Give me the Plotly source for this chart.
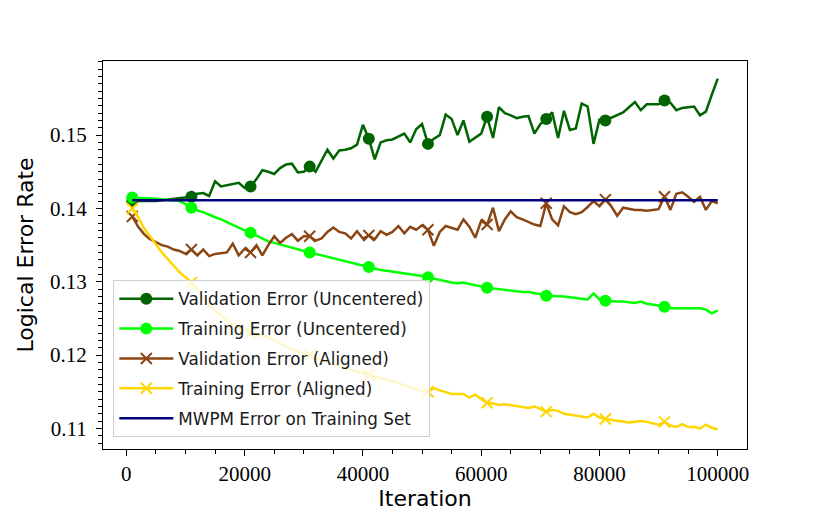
import plotly.graph_objects as go

# iteration grid (one point every 1000 iterations)
iterations = [1000 * k for k in range(1, 101)]

val_uncentered = [
    0.1410, 0.1410, 0.1409, 0.1410, 0.1410, 0.1411, 0.1412, 0.1413, 0.1414, 0.1415,
    0.1416, 0.1420, 0.1421, 0.1417, 0.1437, 0.1430, 0.1432, 0.1434, 0.1435, 0.1428,
    0.1430, 0.1440, 0.1452, 0.1450, 0.1447, 0.1455, 0.1460, 0.1461, 0.1449, 0.1450,
    0.1457, 0.1450, 0.1465, 0.1480, 0.1468, 0.1479, 0.1480, 0.1482, 0.1487, 0.1514,
    0.1495, 0.1467, 0.1490, 0.1493, 0.1494, 0.1498, 0.1502, 0.1490, 0.1508, 0.1515,
    0.1488, 0.1495, 0.1500, 0.1528, 0.1522, 0.1500, 0.1520, 0.1491, 0.1497, 0.1502,
    0.1525, 0.1496, 0.1538, 0.1530, 0.1527, 0.1523, 0.1525, 0.1526, 0.1502, 0.1515,
    0.1522, 0.1531, 0.1496, 0.1533, 0.1507, 0.1509, 0.1543, 0.1539, 0.1488, 0.1521,
    0.1520, 0.1524, 0.1527, 0.1531, 0.1538, 0.1545, 0.1534, 0.1542, 0.1542, 0.1542,
    0.1547, 0.1544, 0.1534, 0.1537, 0.1538, 0.1539, 0.1527, 0.1532, 0.1555, 0.1577,
]

train_uncentered = [
    0.1415, 0.1414, 0.1414, 0.1414, 0.1413, 0.1413, 0.1412, 0.1411, 0.1410, 0.1406,
    0.1401, 0.1397, 0.1395, 0.1391, 0.1388, 0.1385, 0.1381, 0.1377, 0.1374, 0.1370,
    0.1367, 0.1363, 0.1359, 0.1355, 0.1353, 0.1351, 0.1349, 0.1347, 0.1344, 0.1342,
    0.1340, 0.1338, 0.1336, 0.1333, 0.1331, 0.1329, 0.1328, 0.1326, 0.1324, 0.1322,
    0.1320, 0.1318, 0.1316, 0.1315, 0.1314, 0.1313, 0.1312, 0.1311, 0.1309, 0.1308,
    0.1306, 0.1304, 0.1302, 0.1300, 0.1299, 0.1298, 0.1299, 0.1297, 0.1295, 0.1294,
    0.1292, 0.1291, 0.1290, 0.1289, 0.1288, 0.1287, 0.1286, 0.1286, 0.1285, 0.1283,
    0.1281, 0.1281, 0.1280, 0.1280, 0.1279, 0.1278, 0.1278, 0.1276, 0.1284, 0.1276,
    0.1274, 0.1273, 0.1273, 0.1273, 0.1272, 0.1271, 0.1273, 0.1270, 0.1269, 0.1268,
    0.1266, 0.1264, 0.1264, 0.1264, 0.1264, 0.1263, 0.1264, 0.1262, 0.1257, 0.1261,
]

val_aligned = [
    0.1389, 0.1375, 0.1365, 0.1358, 0.1354, 0.1350, 0.1348, 0.1344, 0.1342, 0.1338,
    0.1344, 0.1336, 0.1344, 0.1335, 0.1338, 0.1339, 0.1340, 0.1352, 0.1336, 0.1345,
    0.1340, 0.1350, 0.1336, 0.1350, 0.1362, 0.1353, 0.1360, 0.1365, 0.1356, 0.1362,
    0.1362, 0.1356, 0.1359, 0.1368, 0.1374, 0.1368, 0.1366, 0.1359, 0.1369, 0.1359,
    0.1363, 0.1358, 0.1369, 0.1364, 0.1368, 0.1376, 0.1366, 0.1375, 0.1371, 0.1377,
    0.1371, 0.1349, 0.1368, 0.1376, 0.1373, 0.1371, 0.1385, 0.1375, 0.1360, 0.1383,
    0.1378, 0.1401, 0.1369, 0.1385, 0.1396, 0.1388, 0.1385, 0.1381, 0.1378, 0.1376,
    0.1407, 0.1385, 0.1377, 0.1403, 0.1395, 0.1392, 0.1395, 0.1402, 0.1410, 0.1403,
    0.1412, 0.1403, 0.1390, 0.1401, 0.1399, 0.1398, 0.1398, 0.1397, 0.1398, 0.1399,
    0.1416, 0.1398, 0.1420, 0.1422, 0.1416, 0.1409, 0.1416, 0.1398, 0.1410, 0.1407,
]

train_aligned = [
    0.1400, 0.1388, 0.1373, 0.1362, 0.1351, 0.1340, 0.1331, 0.1322, 0.1313, 0.1306,
    0.1299, 0.1288, 0.1278, 0.1268, 0.1261, 0.1254, 0.1247, 0.1242, 0.1237, 0.1233,
    0.1231, 0.1229, 0.1226, 0.1224, 0.1221, 0.1216, 0.1211, 0.1208, 0.1205, 0.1202,
    0.1200, 0.1196, 0.1193, 0.1190, 0.1188, 0.1185, 0.1182, 0.1180, 0.1177, 0.1175,
    0.1173, 0.1171, 0.1169, 0.1167, 0.1165, 0.1162, 0.1159, 0.1156, 0.1153, 0.1151,
    0.1150, 0.1155, 0.1152, 0.1149, 0.1147, 0.1147, 0.1147, 0.1142, 0.1146, 0.1140,
    0.1135, 0.1134, 0.1132, 0.1133, 0.1132, 0.1131, 0.1130, 0.1128, 0.1130, 0.1126,
    0.1123, 0.1125, 0.1124, 0.1120, 0.1119, 0.1118, 0.1117, 0.1115, 0.1120, 0.1115,
    0.1113, 0.1112, 0.1110, 0.1109, 0.1108, 0.1109, 0.1110, 0.1109, 0.1107, 0.1105,
    0.1109, 0.1104, 0.1102, 0.1106, 0.1102, 0.1102, 0.1100, 0.1105, 0.1101, 0.1099,
]

mwpm_error = 0.1411

SANS = "DejaVu Sans, sans-serif"
SERIF = "Liberation Serif, DejaVu Serif, serif"

series = [
    ("Validation Error (Uncentered)", val_uncentered, "#006400", "circle"),
    ("Training Error (Uncentered)", train_uncentered, "#00ff00", "circle"),
    ("Validation Error (Aligned)", val_aligned, "#8b4513", "x-thin"),
    ("Training Error (Aligned)", train_aligned, "#ffd700", "x-thin"),
]

fig = go.Figure()

for i, (name, vals, color, symbol) in enumerate(series):
    if symbol == "circle":
        marker = dict(symbol="circle", size=12, color=color)
    else:
        marker = dict(symbol="x-thin", size=11, color=color,
                      line=dict(width=2, color=color))
    # full line
    fig.add_trace(go.Scatter(
        x=iterations, y=vals, mode="lines",
        line=dict(color=color, width=2.5),
        legendgroup=name, showlegend=False, hoverinfo="skip",
    ))
    # markers every 10th point
    fig.add_trace(go.Scatter(
        x=iterations[::10], y=vals[::10], mode="markers",
        marker=marker, legendgroup=name, showlegend=False,
    ))
    # legend entry
    fig.add_trace(go.Scatter(
        x=[None], y=[None], mode="lines+markers", name=name,
        line=dict(color=color, width=2.5), marker=marker,
        legendgroup=name, legendrank=i + 1,
    ))

fig.add_trace(go.Scatter(
    x=iterations, y=[mwpm_error] * len(iterations), mode="lines",
    name="MWPM Error on Training Set",
    line=dict(color="#000080", width=2.5),
    legendgroup="mwpm", legendrank=5,
))

fig.update_layout(
    width=822, height=505,
    margin=dict(l=95, r=83, t=53, b=64),
    plot_bgcolor="white",
    paper_bgcolor="white",
    font=dict(family=SANS, color="black"),
    showlegend=True,
    legend=dict(
        x=0.016, y=0.03, xanchor="left", yanchor="bottom",
        bgcolor="rgba(255,255,255,0.8)",
        bordercolor="#d0d0d0", borderwidth=1,
        font=dict(family=SANS, size=16.8, color="#1a1a1a"),
        traceorder="grouped", tracegroupgap=5, itemwidth=54,
    ),
    xaxis=dict(
        title=dict(text="Iteration", font=dict(family=SANS, size=22), standoff=4),
        automargin=False,
        range=[-3950, 104950],
        tickmode="array",
        tickvals=[0, 20000, 40000, 60000, 80000, 100000],
        ticktext=["0", "20000", "40000", "60000", "80000", "100000"],
        tickfont=dict(family=SERIF, size=21),
        ticks="outside", ticklen=6, tickwidth=1.2, tickcolor="black",
        minor=dict(dtick=5000, tick0=0, ticks="outside", ticklen=3.5,
                   tickwidth=1, tickcolor="black", showgrid=False),
        showgrid=False, zeroline=False,
        showline=True, linecolor="black", linewidth=1.2, mirror=True,
    ),
    yaxis=dict(
        title=dict(text="Logical Error Rate", font=dict(family=SANS, size=22), standoff=10),
        automargin=False,
        range=[0.1072, 0.1601],
        tickmode="array",
        tickvals=[0.11, 0.12, 0.13, 0.14, 0.15],
        ticktext=["0.11", "0.12", "0.13", "0.14", "0.15"],
        tickfont=dict(family=SERIF, size=21),
        ticklabelstandoff=5,
        ticks="outside", ticklen=6, tickwidth=1.2, tickcolor="black",
        minor=dict(dtick=0.001, tick0=0.1, ticks="outside", ticklen=3.5,
                   tickwidth=1, tickcolor="black", showgrid=False),
        showgrid=False, zeroline=False,
        showline=True, linecolor="black", linewidth=1.2, mirror=True,
    ),
)

fig.write_html("out.html")
